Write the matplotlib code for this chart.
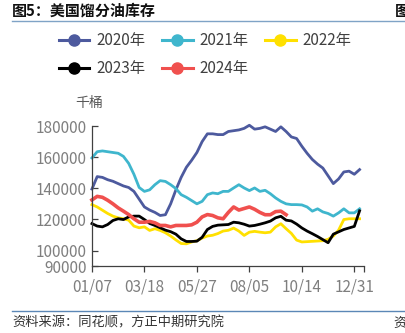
import numpy as np
import matplotlib
matplotlib.use('Agg')
import matplotlib.pyplot as plt
from matplotlib.lines import Line2D

plt.rcParams['font.family'] = ['Noto Sans CJK SC', 'DejaVu Sans']

# weekly distillate stocks, thousand barrels
labels = ['2020年', '2021年', '2022年', '2023年', '2024年']
colors = ['#4D5A9E', '#3FB6CD', '#FFE000', '#000000', '#F0504E']
xticklabels = ['01/07', '03/18', '05/27', '08/05', '10/14', '12/31']
yticks = [90000, 100000, 120000, 140000, 160000, 180000]

y2020 = [139500, 147500, 147000, 145500, 144500, 143000, 141500, 140500, 138000, 133000,
         128000, 126000, 124500, 122500, 123000, 130000, 139000, 147000, 153500, 158000,
         163000, 170000, 175000, 175000, 174500, 174500, 176500, 177000, 177500, 178500,
         180500, 178000, 178500, 179500, 178000, 176500, 179500, 176500, 173000, 172000,
         167000, 162500, 158500, 155500, 153000, 148000, 143000, 146000, 150500, 151000,
         149000, 152000]
y2021 = [159500, 163500, 164000, 163500, 163000, 162500, 160500, 156000, 149000, 140500,
         138000, 139000, 142300, 144900, 144400, 142300, 139800, 135900, 134200, 132100,
         130000, 131600, 135900, 137000, 136500, 138000, 138000, 140200, 142300, 140200,
         138500, 140200, 138000, 138700, 136500, 133800, 131600, 130000, 129500, 129500,
         129300, 128000, 125300, 126800, 124800, 123800, 122100, 124200, 126800, 124200,
         124200, 126800]
y2022 = [129500, 128000, 125900, 123800, 122100, 121000, 120400, 119500, 115700, 114600,
         115200, 112900, 114000, 112900, 111400, 109300, 106800, 104500, 104300, 105500,
         106300, 108000, 109300, 109800, 110900, 112500, 113000, 114400, 112500, 109700,
         111800, 112300, 111800, 111400, 111800, 115200, 117200, 114000, 111000, 106700,
         105500, 105700, 105900, 106100, 106300, 107200, 109300, 113100, 119900, 120400,
         120400, 120400]
y2023 = [117300, 115700, 115200, 116700, 119300, 120400, 119900, 121600, 122100, 122100,
         119900, 117400, 116100, 114600, 113100, 112100, 110500, 107500, 105800, 105800,
         106000, 108500, 113500, 115500, 116300, 116500, 116700, 118200, 117800, 116900,
         115700, 116100, 116900, 117800, 118900, 121000, 122000, 119500, 119000, 117000,
         114500, 112500, 110800, 109000, 107000, 105000, 110500, 112000, 113500, 114500,
         115500, 125500]
y2024 = [132500, 134800, 134200, 132300, 130000, 127400, 125300, 123100, 120400, 118200,
         118200, 118700, 117800, 116100, 116100, 115200, 116100, 116100, 116100, 116500,
         118200, 121600, 123100, 122500, 121000, 120400, 124500, 128000, 126000, 127000,
         128000, 126500, 124500, 123000, 123000, 125000, 125300, 123000]

series = [y2020, y2021, y2022, y2023, y2024]
widths = [2.0, 2.0, 2.0, 2.0, 2.6]

fig = plt.figure(figsize=(4.05, 3.33), dpi=100)
ax = fig.add_axes([0.227, 0.201, 0.6725, 0.4205])

for ys, c, lw, lab in zip(series, colors, widths, labels):
    ax.plot(np.arange(len(ys)), ys, color=c, lw=lw, label=lab, clip_on=False,
            solid_joinstyle='round')

ax.set_xlim(0, 51.9)
ax.set_ylim(90000, 180000)
ax.set_yticks(yticks)
ax.set_yticklabels([str(v) for v in yticks])
ax.set_xticks([0, 10, 20, 30, 40, 50])
ax.set_xticklabels(xticklabels)
ax.set_xticks([51.9], minor=True)
for s in ['top', 'right']:
    ax.spines[s].set_visible(False)
for s in ['left', 'bottom']:
    ax.spines[s].set_color('#404040')
    ax.spines[s].set_linewidth(0.9)
ax.tick_params(axis='y', direction='in', length=4, width=0.9, color='#404040',
               labelsize=11, labelcolor='#7F7F7F', pad=4)
ax.tick_params(axis='x', which='both', direction='out', length=4, width=0.9,
               color='#404040', labelsize=11, labelcolor='#7F7F7F', pad=5)
ax.text(-0.01, 1.165, '千桶', transform=ax.transAxes, ha='center', va='center',
        fontsize=10, color='#595959')

# legend: row 1 2020/2021/2022, row 2 2023/2024
h = [Line2D([], [], color=c, lw=2.2, marker='o', markersize=8) for c in colors]
order = [0, 3, 1, 4, 2]
fig.legend([h[i] for i in order], [labels[i] for i in order], ncol=3,
           loc='upper left', bbox_to_anchor=(0.145, 0.903), frameon=False,
           fontsize=11, labelcolor='#404040', handlelength=2.0,
           handletextpad=0.45, columnspacing=1.1, labelspacing=0.72,
           borderaxespad=0, borderpad=0)

fig.text(0.03, 0.968, '图5：美国馏分油库存', fontsize=10.8, fontweight='bold',
         ha='left', va='center', color='#111111')
fig.text(0.976, 0.968, '图', fontsize=10.8, fontweight='bold', ha='left',
         va='center', color='#111111')
fig.add_artist(Line2D([0.03, 1.0], [0.937, 0.937], color='#7FA3C6', lw=1.0))
fig.add_artist(Line2D([0.03, 1.0], [0.065, 0.065], color='#5B87B6', lw=1.0))
fig.text(0.03, 0.03, '资料来源：同花顺，方正中期研究院', fontsize=9.5, style='italic',
         ha='left', va='center', color='#333333')
fig.text(0.972, 0.03, '资', fontsize=9.5, style='italic', ha='left', va='center',
         color='#333333')

fig.savefig('out.png', dpi=100)
